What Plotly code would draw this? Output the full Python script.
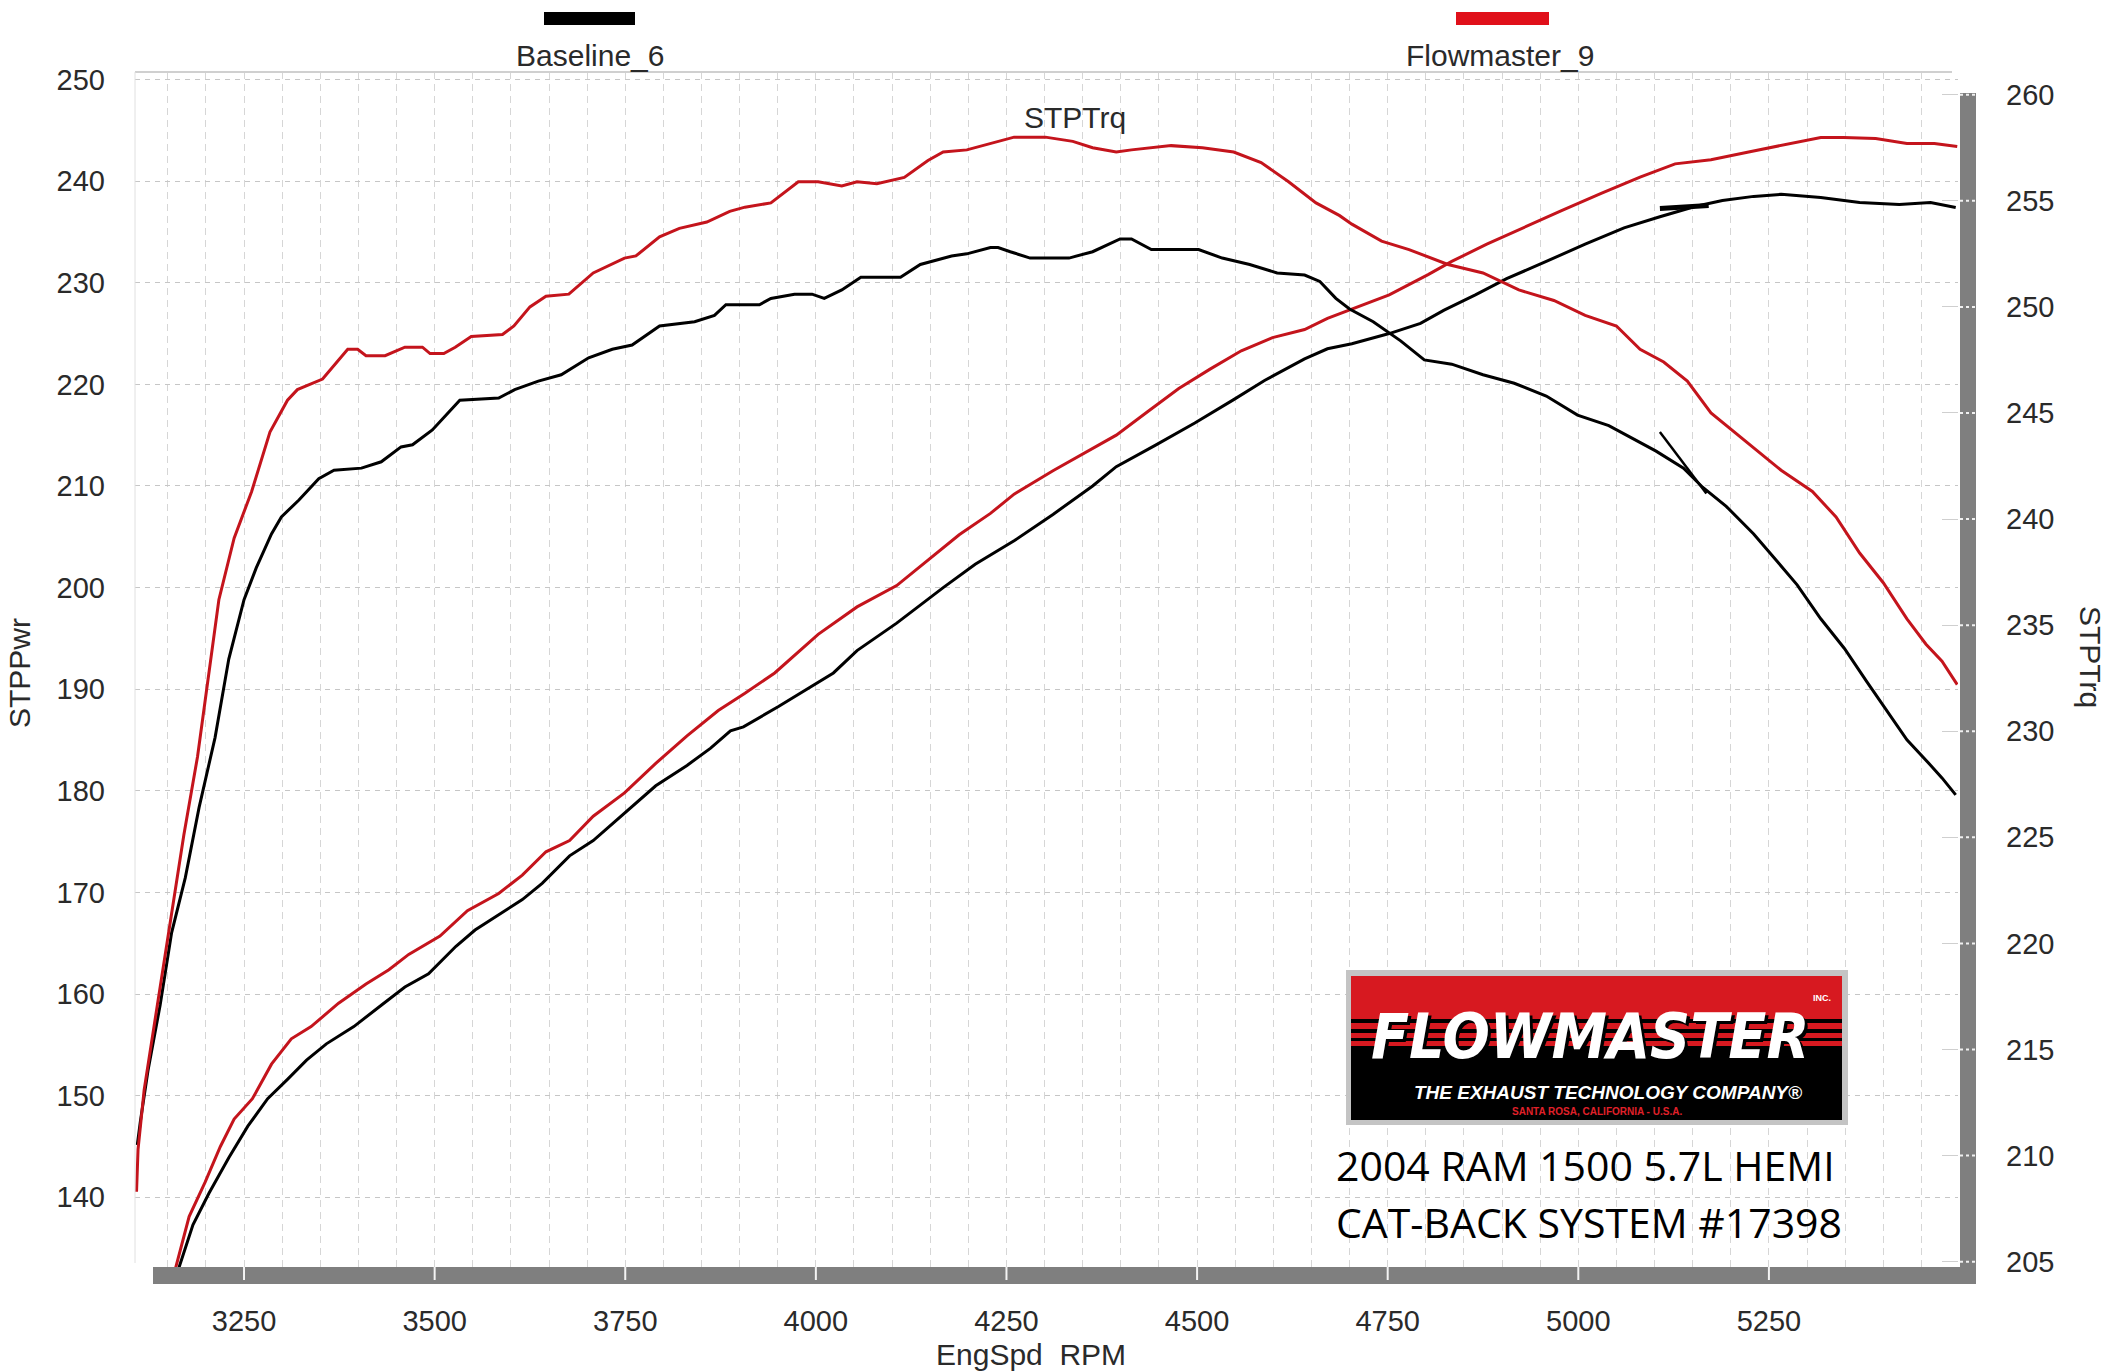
import plotly.graph_objects as go

# ---------------- data ----------------
flow_trq_rpm = [3109, 3111, 3119, 3135, 3153, 3171, 3189, 3207, 3217, 3237, 3260, 3284, 3307, 3320, 3353,
                3386, 3399, 3410, 3435, 3461, 3484, 3494, 3512, 3527, 3548, 3589, 3604, 3625, 3646, 3676,
                3708, 3749, 3764, 3795, 3821, 3857, 3887, 3907, 3941, 3977, 4003, 4034, 4054, 4080, 4116,
                4147, 4167, 4198, 4229, 4260, 4301, 4337, 4363, 4394, 4414, 4466, 4507, 4548, 4584, 4620,
                4656, 4687, 4703, 4742, 4778, 4829, 4875, 4922, 4968, 5009, 5050, 5081, 5112, 5143, 5174,
                5205, 5235, 5266, 5307, 5338, 5369, 5400, 5431, 5456, 5477, 5497]
flow_trq = [208.3, 210.3, 213.1, 216.8, 220.8, 225.1, 228.8, 233.4, 236.2, 239.1, 241.3, 244.1, 245.6, 246.1, 246.6,
            248.0, 248.0, 247.7, 247.7, 248.1, 248.1, 247.8, 247.8, 248.1, 248.6, 248.7, 249.1, 250.0, 250.5, 250.6,
            251.6, 252.3, 252.4, 253.3, 253.7, 254.0, 254.5, 254.7, 254.9, 255.9, 255.9, 255.7, 255.9, 255.8, 256.1,
            256.9, 257.3, 257.4, 257.7, 258.0, 258.0, 257.8, 257.5, 257.3, 257.4, 257.6, 257.5, 257.3, 256.8, 255.9,
            254.9, 254.3, 253.9, 253.1, 252.7, 252.0, 251.6, 250.8, 250.3, 249.6, 249.1, 248.0, 247.4, 246.5, 245.0,
            244.1, 243.2, 242.3, 241.3, 240.1, 238.4, 237.0, 235.3, 234.1, 233.3, 232.2]

base_trq_rpm = [3110, 3114, 3124, 3140, 3155, 3173, 3191, 3212, 3230, 3250, 3266, 3286, 3299, 3322, 3348,
                3368, 3404, 3430, 3456, 3471, 3497, 3533, 3584, 3605, 3636, 3666, 3702, 3733, 3759, 3795,
                3841, 3867, 3882, 3926, 3941, 3972, 3995, 4011, 4034, 4059, 4111, 4137, 4178, 4198, 4229,
                4239, 4255, 4281, 4332, 4363, 4399, 4414, 4440, 4466, 4502, 4533, 4569, 4605, 4641, 4661,
                4682, 4700, 4731, 4767, 4798, 4834, 4875, 4916, 4958, 4999, 5040, 5071, 5102, 5138, 5163,
                5194, 5230, 5261, 5287, 5318, 5349, 5379, 5400, 5431, 5462, 5477, 5495]
base_trq = [210.5, 211.6, 214.0, 217.1, 220.5, 223.1, 226.4, 229.7, 233.4, 236.2, 237.7, 239.3, 240.1, 240.9, 241.9,
            242.3, 242.4, 242.7, 243.4, 243.5, 244.2, 245.6, 245.7, 246.1, 246.5, 246.8, 247.6, 248.0, 248.2, 249.1,
            249.3, 249.6, 250.1, 250.1, 250.4, 250.6, 250.6, 250.4, 250.8, 251.4, 251.4, 252.0, 252.4, 252.5, 252.8,
            252.8, 252.6, 252.3, 252.3, 252.6, 253.2, 253.2, 252.7, 252.7, 252.7, 252.3, 252.0, 251.6, 251.5, 251.2,
            250.4, 249.9, 249.3, 248.4, 247.5, 247.3, 246.8, 246.4, 245.8, 244.9, 244.4, 243.8, 243.2, 242.4, 241.5,
            240.6, 239.3, 238.0, 236.9, 235.3, 233.9, 232.3, 231.2, 229.6, 228.4, 227.8, 227.0]

flow_pwr_rpm = [3158, 3178, 3199, 3219, 3237, 3261, 3286, 3312, 3338, 3374, 3410, 3440, 3466, 3507, 3543,
                3584, 3615, 3646, 3677, 3708, 3749, 3790, 3831, 3872, 3907, 3946, 4003, 4054, 4106, 4147,
                4188, 4229, 4260, 4311, 4363, 4394, 4435, 4476, 4517, 4558, 4599, 4641, 4671, 4703, 4752,
                4803, 4834, 4880, 4927, 4978, 5030, 5081, 5127, 5174, 5225, 5266, 5318, 5348, 5390, 5431,
                5467, 5497]
flow_pwr = [132.4, 138.1, 141.5, 145.0, 147.7, 149.7, 153.1, 155.6, 156.8, 159.1, 161.0, 162.4, 163.9, 165.7, 168.2,
            169.9, 171.7, 174.0, 175.1, 177.5, 179.8, 182.7, 185.4, 187.9, 189.6, 191.6, 195.4, 198.1, 200.2, 202.7,
            205.2, 207.3, 209.2, 211.5, 213.7, 215.0, 217.3, 219.6, 221.5, 223.3, 224.6, 225.4, 226.5, 227.4, 228.8,
            230.8, 232.1, 233.8, 235.4, 237.1, 238.8, 240.4, 241.7, 242.1, 242.9, 243.5, 244.3, 244.3, 244.2, 243.7,
            243.7, 243.4]

base_pwr_rpm = [3163, 3183, 3204, 3230, 3255, 3281, 3307, 3332, 3358, 3394, 3430, 3461, 3492, 3528, 3553,
                3589, 3615, 3641, 3677, 3708, 3749, 3790, 3831, 3862, 3888, 3905, 3951, 4023, 4054, 4106,
                4167, 4209, 4260, 4311, 4363, 4394, 4445, 4497, 4548, 4589, 4641, 4671, 4703, 4752, 4793,
                4824, 4865, 4906, 4958, 5009, 5060, 5107, 5153, 5189, 5230, 5266, 5318, 5369, 5421, 5462,
                5495]
base_pwr = [132.7, 137.3, 140.4, 143.9, 147.0, 149.7, 151.6, 153.5, 155.1, 156.8, 158.9, 160.7, 162.0, 164.7, 166.3,
            168.0, 169.3, 170.9, 173.6, 175.1, 177.8, 180.5, 182.5, 184.2, 185.9, 186.3, 188.3, 191.6, 193.8, 196.5,
            200.0, 202.3, 204.6, 207.2, 210.0, 211.9, 214.0, 216.2, 218.5, 220.4, 222.5, 223.5, 224.0, 225.0, 226.0,
            227.3, 228.8, 230.4, 232.1, 233.8, 235.4, 236.5, 237.5, 238.1, 238.5, 238.7, 238.4, 237.9, 237.7, 237.9,
            237.4]

# short stray baseline segments visible near 5100-5170 rpm
stray_pwr_rpm = [5107, 5140, 5171]
stray_pwr = [237.3, 237.5, 237.6]
stray_trq_rpm = [5107, 5168]
stray_trq = [244.1, 241.2]

x_ticks = [3250, 3500, 3750, 4000, 4250, 4500, 4750, 5000, 5250]
pwr_ticks = [140, 150, 160, 170, 180, 190, 200, 210, 220, 230, 240, 250]
trq_ticks = [205, 210, 215, 220, 225, 230, 235, 240, 245, 250, 255, 260]

series_names = ["Baseline_6", "Flowmaster_9"]
title_lines = ["2004 RAM 1500 5.7L HEMI", "CAT-BACK SYSTEM #17398"]

# ---------------- styling ----------------
W, H = 2112, 1372
L, R, T, B = 135, 1958, 72, 1267
RED = "#c4141c"
BLACK = "#000000"
TXT = "#2a2a2a"
FONT = "Liberation Sans, Arial, sans-serif"


def PX(x):
    return (x - L) / (R - L)


def PY(y):
    return (B - y) / (B - T)


fig = go.Figure()

fig.add_trace(go.Scatter(x=base_pwr_rpm, y=base_pwr, mode="lines", line=dict(color=BLACK, width=3),
                         name="Baseline_6 STPPwr", yaxis="y"))
fig.add_trace(go.Scatter(x=base_trq_rpm, y=base_trq, mode="lines", line=dict(color=BLACK, width=3),
                         name="Baseline_6 STPTrq", yaxis="y2"))
fig.add_trace(go.Scatter(x=stray_pwr_rpm, y=stray_pwr, mode="lines", line=dict(color=BLACK, width=5),
                         name="stray", yaxis="y"))
fig.add_trace(go.Scatter(x=stray_trq_rpm, y=stray_trq, mode="lines", line=dict(color=BLACK, width=2.5),
                         name="stray", yaxis="y2"))
fig.add_trace(go.Scatter(x=flow_pwr_rpm, y=flow_pwr, mode="lines", line=dict(color=RED, width=3),
                         name="Flowmaster_9 STPPwr", yaxis="y"))
fig.add_trace(go.Scatter(x=flow_trq_rpm, y=flow_trq, mode="lines", line=dict(color=RED, width=3),
                         name="Flowmaster_9 STPTrq", yaxis="y2"))

tickfont = dict(family=FONT, size=29, color=TXT)

fig.update_layout(
    width=W, height=H,
    margin=dict(l=L, r=W - R, t=T, b=H - B, autoexpand=False),
    paper_bgcolor="white", plot_bgcolor="white",
    showlegend=False,
    xaxis=dict(range=[3107, 5498], tickmode="array", tickvals=x_ticks, ticks="",
               showline=False, zeroline=False,
               showgrid=True, gridcolor="#d6d6d6", griddash="7px,5px", gridwidth=1,
               minor=dict(tickmode="linear", tick0=3100, dtick=50, showgrid=True,
                          gridcolor="#d6d6d6", griddash="7px,5px", gridwidth=1),
               tickfont=tickfont, ticklabelstandoff=34),
    yaxis=dict(range=[133.14, 250.74], tickmode="array", tickvals=pwr_ticks, ticks="",
               showline=False, zeroline=False,
               showgrid=True, gridcolor="#c6c6c6", griddash="5px,5px", gridwidth=1,
               tickfont=tickfont, ticklabelstandoff=29),
    yaxis2=dict(range=[204.75, 261.07], overlaying="y", side="right", tickmode="array",
                tickvals=trq_ticks, ticks="inside", ticklen=16, tickcolor="#cfcfcf", tickwidth=1,
                showline=False, zeroline=False, showgrid=False,
                tickfont=tickfont, ticklabelstandoff=47),
)

shapes = []
# plot border (top, left)
shapes.append(dict(type="line", xref="paper", yref="paper", x0=0, x1=PX(1952), y0=1, y1=1,
                   line=dict(color="#d0d0d0", width=2), layer="above"))
shapes.append(dict(type="line", xref="paper", yref="paper", x0=0, x1=0, y0=PY(1263), y1=1,
                   line=dict(color="#e0e0e0", width=1), layer="above"))
# gray axis bars
shapes.append(dict(type="rect", xref="paper", yref="paper", x0=PX(153), x1=PX(1976), y0=PY(1284), y1=PY(1267),
                   fillcolor="#7f7f7f", line=dict(width=0), layer="above"))
shapes.append(dict(type="rect", xref="paper", yref="paper", x0=PX(1960), x1=PX(1976), y0=PY(1284), y1=PY(93),
                   fillcolor="#7f7f7f", line=dict(width=0), layer="above"))
for v in x_ticks:
    shapes.append(dict(type="line", xref="x", yref="paper", x0=v, x1=v, y0=PY(1280), y1=PY(1267),
                       line=dict(color="#f4f4f4", width=2), layer="above"))
for v in trq_ticks:
    shapes.append(dict(type="line", xref="paper", yref="y2", x0=PX(1960), x1=PX(1976), y0=v, y1=v,
                       line=dict(color="#f0f0f0", width=2, dash="3px,3px"), layer="above"))
# legend bars
shapes.append(dict(type="rect", xref="paper", yref="paper", x0=PX(544), x1=PX(635), y0=PY(25), y1=PY(12),
                   fillcolor=BLACK, line=dict(width=0)))
shapes.append(dict(type="rect", xref="paper", yref="paper", x0=PX(1456), x1=PX(1549), y0=PY(25), y1=PY(12),
                   fillcolor="#e0101a", line=dict(width=0)))
# logo
shapes.append(dict(type="rect", xref="paper", yref="paper", x0=PX(1346), x1=PX(1848), y0=PY(1125), y1=PY(970),
                   fillcolor="#c4c4c4", line=dict(width=0), layer="above"))
shapes.append(dict(type="rect", xref="paper", yref="paper", x0=PX(1351), x1=PX(1842), y0=PY(1120), y1=PY(976),
                   fillcolor="#d71920", line=dict(width=0), layer="above"))
shapes.append(dict(type="rect", xref="paper", yref="paper", x0=PX(1351), x1=PX(1842), y0=PY(1120), y1=PY(1046),
                   fillcolor="#000000", line=dict(width=0), layer="above"))
for (ya, yb) in [(1019, 1023), (1029, 1033), (1038, 1041)]:
    shapes.append(dict(type="rect", xref="paper", yref="paper", x0=PX(1351), x1=PX(1842), y0=PY(yb), y1=PY(ya),
                       fillcolor="#000000", line=dict(width=0), layer="above"))
fig.update_layout(shapes=shapes)

ann = []


def A(text, x, y, size, color=TXT, family=FONT, xanchor="center", yanchor="middle", angle=0, **fkw):
    ann.append(dict(text=text, x=PX(x), y=PY(y), xref="paper", yref="paper", showarrow=False,
                    xanchor=xanchor, yanchor=yanchor, textangle=angle,
                    font=dict(family=family, size=size, color=color, **fkw)))


A(series_names[0], 590, 55, 30)
A(series_names[1], 1500, 55, 30)
A("STPTrq", 1075, 118, 30)
A("STPPwr", 19, 673, 30, angle=-90)
A("STPTrq", 2091, 657, 30, angle=90)
A("EngSpd  RPM", 1031, 1354, 30)

LOGO_FONT = "Liberation Sans Narrow, DejaVu Sans Condensed, Arial Narrow, sans-serif"
A("FLOWMASTER", 1590, 1036, 62, color="white", family=LOGO_FONT, weight="bold", style="italic",
  shadow="3px 3px 0px #000")
A("INC.", 1822, 998, 9, color="white", weight="bold")
A("THE EXHAUST TECHNOLOGY COMPANY®", 1608, 1092, 19, color="white", family="Liberation Sans, Arial",
  weight="bold", style="italic")
A("SANTA ROSA, CALIFORNIA - U.S.A.", 1597, 1111, 10, color="#e0202a", weight="bold")

A(title_lines[0], 1334, 1165, 41, color="black", family="Open Sans, Noto Sans, sans-serif", xanchor="left")
A(title_lines[1], 1334, 1222, 41, color="black", family="Open Sans, Noto Sans, sans-serif", xanchor="left")

fig.update_layout(annotations=ann)

fig.write_html("out.html", config={"displayModeBar": False})

# remove the browser's default 8px body margin so the figure sits at the page origin
with open("out.html", "r", encoding="utf-8") as f:
    html = f.read()
html = html.replace("<body>", '<body style="margin:0;padding:0;">', 1)
with open("out.html", "w", encoding="utf-8") as f:
    f.write(html)
